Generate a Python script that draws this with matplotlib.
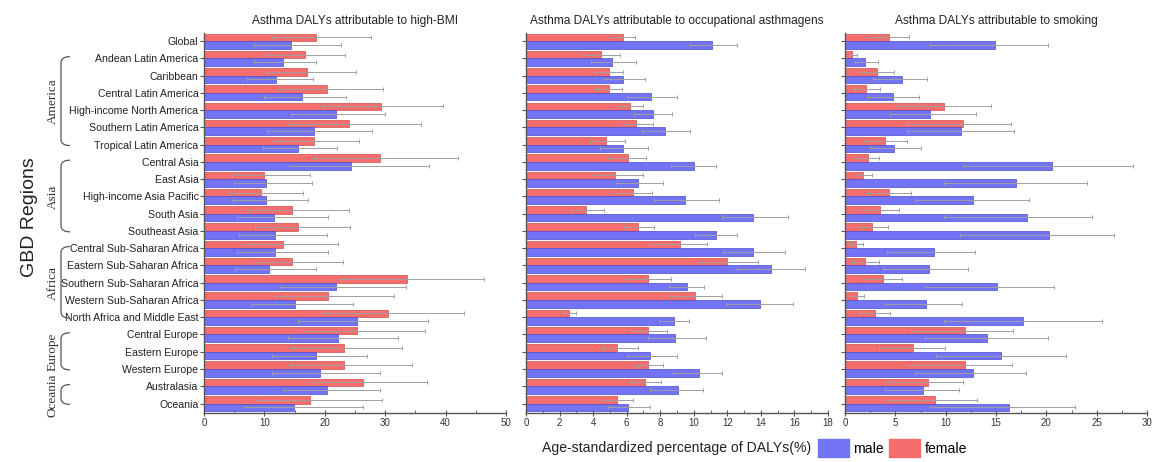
import matplotlib
matplotlib.use("Agg")
import matplotlib.pyplot as plt
import numpy as np
from matplotlib.path import Path
from matplotlib.patches import PathPatch, Patch
import matplotlib.transforms as mtransforms
from matplotlib.ticker import MultipleLocator

regions = ["Global", "Andean Latin America", "Caribbean", "Central Latin America",
           "High-income North America", "Southern Latin America", "Tropical Latin America",
           "Central Asia", "East Asia", "High-income Asia Pacific", "South Asia", "Southeast Asia",
           "Central Sub-Saharan Africa", "Eastern Sub-Saharan Africa", "Southern Sub-Saharan Africa",
           "Western Sub-Saharan Africa", "North Africa and Middle East",
           "Central Europe", "Eastern Europe", "Western Europe", "Australasia", "Oceania"]

groups = ["America", "Asia", "Africa", "Europe", "Oceania"]
group_first = [1, 7, 12, 17, 20]
group_last = [6, 11, 16, 19, 21]

titles = ["Asthma DALYs attributable to high-BMI",
          "Asthma DALYs attributable to occupational asthmagens",
          "Asthma DALYs attributable to smoking"]

# ---- high-BMI ----
bmi_female = [18.5, 16.7, 17.1, 20.4, 29.3, 24.0, 18.2, 29.2, 10.0, 9.4, 14.6, 15.5,
              13.0, 14.6, 33.6, 20.5, 30.5, 25.4, 23.1, 23.2, 26.4, 17.6]
bmi_female_lo = [11.2, 10.3, 10.3, 12.5, 19.6, 14.2, 11.4, 18.2, 4.7, 4.3, 7.3, 8.4,
                 6.4, 8.1, 22.5, 11.7, 19.4, 16.0, 14.5, 14.2, 17.4, 8.7]
bmi_female_hi = [27.7, 23.4, 25.2, 29.7, 39.5, 36.0, 25.6, 42.1, 17.5, 16.4, 24.0, 24.1,
                 22.2, 23.0, 46.4, 31.4, 43.0, 36.6, 32.7, 34.4, 36.9, 29.5]
bmi_male = [14.4, 13.1, 12.0, 16.2, 21.8, 18.2, 15.6, 24.4, 10.3, 10.2, 11.6, 11.8,
            11.7, 10.7, 21.8, 15.0, 25.4, 22.2, 18.5, 19.2, 20.4, 14.9]
bmi_male_lo = [8.3, 8.3, 7.2, 10.0, 14.4, 10.5, 9.8, 14.1, 5.0, 4.7, 5.4, 5.8,
               5.5, 5.1, 12.6, 7.7, 15.6, 13.9, 11.3, 11.3, 13.2, 6.7]
bmi_male_hi = [22.7, 18.5, 18.0, 23.5, 30.0, 27.8, 22.0, 37.3, 17.9, 17.2, 20.6, 20.3,
               20.5, 18.6, 33.4, 24.7, 37.1, 32.2, 27.0, 29.2, 29.2, 26.4]

# ---- occupational asthmagens ----
occ_female = [5.8, 4.45, 4.95, 4.95, 6.2, 6.55, 4.75, 6.05, 5.3, 6.35, 3.6, 6.65,
              9.15, 12.0, 7.3, 10.1, 2.55, 7.3, 5.45, 7.3, 7.1, 5.4]
occ_female_lo = [5.05, 3.4, 4.1, 4.2, 5.45, 5.65, 3.8, 4.9, 4.05, 5.2, 2.7, 5.85,
                 7.45, 10.2, 5.9, 8.6, 2.2, 6.25, 4.5, 6.55, 6.2, 4.55]
occ_female_hi = [6.5, 5.6, 5.8, 5.75, 6.95, 7.55, 5.9, 7.15, 6.95, 7.5, 4.65, 7.65,
                 10.8, 13.8, 8.65, 11.7, 3.0, 8.4, 6.65, 8.15, 8.05, 6.4]
occ_male = [11.1, 5.15, 5.8, 7.45, 7.55, 8.3, 5.8, 10.0, 6.7, 9.45, 13.55, 11.3,
            13.55, 14.6, 9.6, 13.95, 8.85, 8.9, 7.4, 10.3, 9.05, 6.05]
occ_male_lo = [9.8, 3.85, 4.65, 6.0, 6.45, 6.9, 4.4, 8.65, 5.35, 7.65, 11.7, 10.05,
               11.75, 12.55, 8.55, 11.95, 7.95, 7.3, 6.0, 8.75, 7.4, 4.9]
occ_male_hi = [12.6, 6.55, 7.1, 9.0, 8.7, 9.8, 7.25, 11.3, 8.15, 11.5, 15.6, 12.6,
               15.45, 16.6, 10.6, 15.9, 9.7, 10.7, 9.0, 11.7, 10.55, 7.4]

# ---- smoking ----
smk_female = [4.4, 0.65, 3.2, 2.1, 9.8, 11.7, 4.0, 2.3, 1.8, 4.4, 3.5, 2.7,
              1.1, 2.0, 3.8, 1.2, 2.95, 11.95, 6.8, 11.9, 8.25, 8.9]
smk_female_lo = [2.2, 0.35, 1.6, 0.85, 5.0, 6.2, 1.9, 1.05, 1.0, 2.25, 1.6, 1.15,
                 0.45, 0.7, 1.8, 0.55, 1.4, 6.6, 3.4, 6.35, 4.3, 4.05]
smk_female_hi = [6.35, 1.15, 4.85, 3.45, 14.5, 16.5, 6.2, 3.4, 2.7, 6.6, 5.35, 4.3,
                 1.8, 3.4, 5.65, 1.85, 4.45, 16.7, 9.9, 16.6, 11.75, 13.1]
smk_male = [14.9, 1.95, 5.65, 4.8, 8.45, 11.55, 4.85, 20.6, 16.95, 12.7, 18.05, 20.25,
            8.85, 8.3, 15.1, 8.05, 17.7, 14.1, 15.45, 12.75, 7.7, 16.25]
smk_male_lo = [8.45, 1.0, 2.8, 2.25, 4.5, 6.2, 2.5, 11.85, 9.8, 7.0, 9.8, 11.4,
               4.15, 3.8, 7.95, 4.0, 9.85, 7.95, 9.05, 6.95, 4.0, 8.45]
smk_male_hi = [20.2, 3.3, 8.15, 7.4, 13.0, 16.75, 7.55, 28.65, 24.0, 18.3, 24.5, 26.7,
               12.9, 12.25, 20.8, 11.6, 25.5, 20.15, 22.0, 18.0, 11.35, 22.8]

panels = [
    (bmi_female, bmi_female_lo, bmi_female_hi, bmi_male, bmi_male_lo, bmi_male_hi, 50, 10, 5),
    (occ_female, occ_female_lo, occ_female_hi, occ_male, occ_male_lo, occ_male_hi, 18, 2, 1),
    (smk_female, smk_female_lo, smk_female_hi, smk_male, smk_male_lo, smk_male_hi, 30, 5, 2.5),
]

MALE = "#7373f5"
MALE_EDGE = "#4b4bd2"
FEMALE = "#f56e6e"
FEMALE_EDGE = "#d24c4c"
ERR = "#a0a0a0"
AXC = "#555555"

plt.rcParams["font.family"] = ["Liberation Sans", "DejaVu Sans"]

W, H = 1169, 462
fig = plt.figure(figsize=(W / 100, H / 100), dpi=100)

lefts_px = [204, 526, 845]
width_px = 302
top_px, bot_px = 32.5, 412.5

y = np.arange(len(regions))
bh = 0.44
axes = []
for k, (f, flo, fhi, m, mlo, mhi, xmax, maj, mnr) in enumerate(panels):
    ax = fig.add_axes([lefts_px[k] / W, 1 - bot_px / H, width_px / W, (bot_px - top_px) / H])
    axes.append(ax)
    f = np.array(f); m = np.array(m)
    ferr = [f - np.array(flo), np.array(fhi) - f]
    merr = [m - np.array(mlo), np.array(mhi) - m]
    ax.barh(y - bh / 2, f, height=bh, color=FEMALE, edgecolor=FEMALE_EDGE, linewidth=0.5, zorder=2)
    ax.barh(y + bh / 2, m, height=bh, color=MALE, edgecolor=MALE_EDGE, linewidth=0.5, zorder=2)
    ax.errorbar(f, y - bh / 2, xerr=ferr, fmt="none", ecolor=ERR, elinewidth=0.7,
                capsize=1.5, capthick=0.7, zorder=3)
    ax.errorbar(m, y + bh / 2, xerr=merr, fmt="none", ecolor=ERR, elinewidth=0.7,
                capsize=1.5, capthick=0.7, zorder=3)
    ax.set_xlim(0, xmax)
    ax.set_ylim(len(regions) - 1 + 0.52, -0.5)
    ax.xaxis.set_major_locator(MultipleLocator(maj))
    ax.xaxis.set_minor_locator(MultipleLocator(mnr))
    ax.set_yticks(y)
    if k == 0:
        ax.set_yticklabels(regions, fontsize=7.6, color="#222222")
    else:
        ax.set_yticklabels([])
    for s in ["top", "right"]:
        ax.spines[s].set_visible(False)
    for s in ["left", "bottom"]:
        ax.spines[s].set_color(AXC)
        ax.spines[s].set_linewidth(1.0)
    ax.tick_params(axis="y", direction="out", length=3, width=0.8, color=AXC, pad=1)
    ax.tick_params(axis="x", which="major", direction="inout", length=4, width=0.8,
                   color=AXC, labelsize=7, labelcolor="#333333", pad=2)
    ax.tick_params(axis="x", which="minor", direction="in", length=2, width=0.6, color=AXC)
    ax.set_title(titles[k], fontsize=8.6, color="#222222", pad=6)

# group brackets on the left of first panel
ax0 = axes[0]
trans = mtransforms.blended_transform_factory(fig.transFigure, ax0.transData)
bx0 = 61 / W
bx1 = 70 / W
for g, a, b in zip(groups, group_first, group_last):
    ytop = a - 0.1
    ybot = b + 0.05
    r = 0.35
    verts = [(bx1, ytop), (bx0, ytop), (bx0, ytop + r),
             (bx0, ybot - r), (bx0, ybot), (bx1, ybot)]
    codes = [Path.MOVETO, Path.CURVE3, Path.CURVE3, Path.LINETO, Path.CURVE3, Path.CURVE3]
    fig.add_artist(PathPatch(Path(verts, codes), transform=trans, fill=False,
                             edgecolor="#555555", linewidth=0.9))
    fig.text(53 / W, (a + b) / 2, g, rotation=90, ha="center", va="center",
             fontsize=9.5, family=["Liberation Serif", "DejaVu Serif"], color="#333333",
             transform=trans)

fig.text(30 / W, 1 - 217 / H, "GBD Regions", rotation=90, ha="center", va="center",
         fontsize=14, color="#222222")

fig.text(677 / W, 1 - 448 / H, "Age-standardized percentage of DALYs(%)", ha="center",
         va="center", fontsize=10.1, color="#222222")

handles = [Patch(facecolor=MALE, edgecolor=MALE, label="male"),
           Patch(facecolor=FEMALE, edgecolor=FEMALE, label="female")]
fig.legend(handles=handles, loc="center left", bbox_to_anchor=(818 / W, 1 - 448 / H),
           ncol=2, frameon=False, fontsize=10.1, handlelength=2.2, handleheight=1.5,
           handletextpad=0.3, columnspacing=0.4, borderpad=0, borderaxespad=0)

fig.savefig("out.png", dpi=100)
